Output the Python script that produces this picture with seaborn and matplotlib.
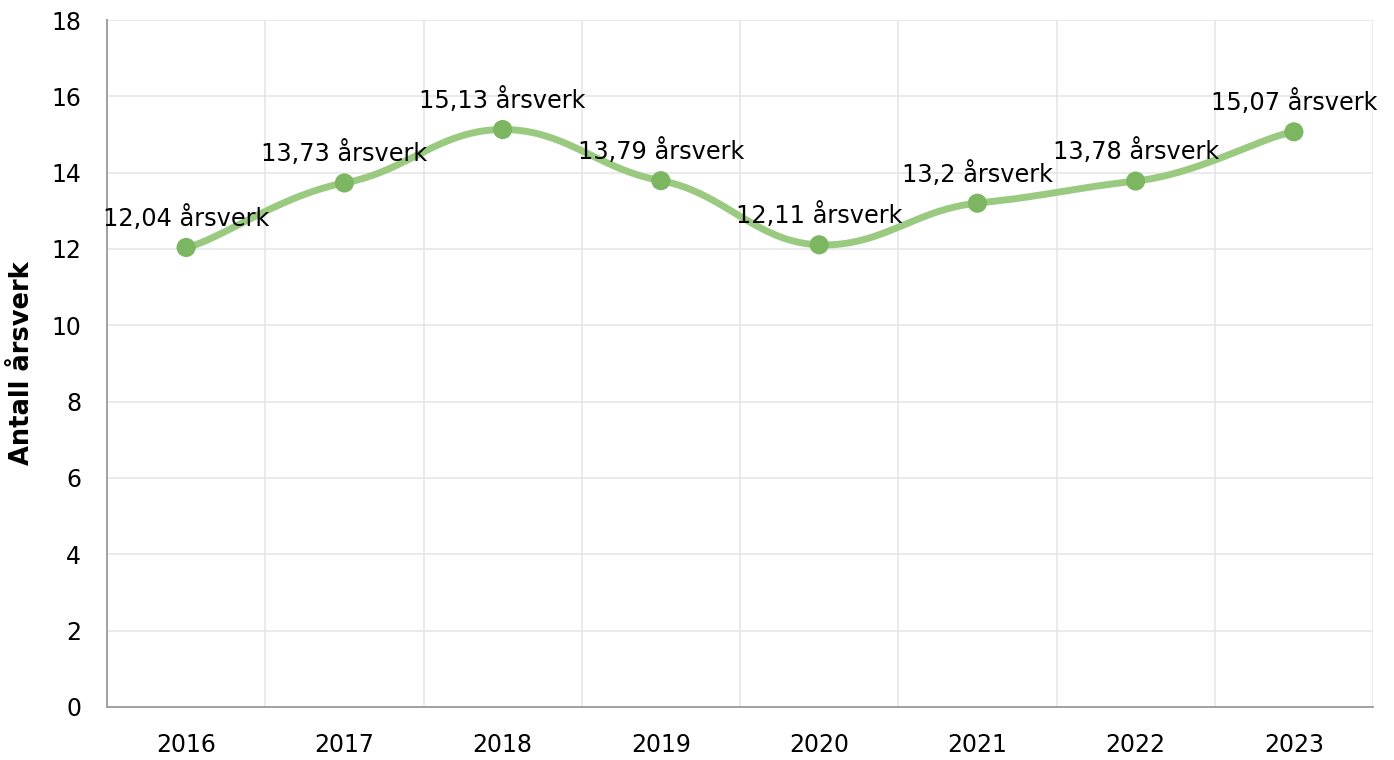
import numpy as np
import pandas as pd
import matplotlib
matplotlib.use("Agg")
import matplotlib.pyplot as plt
import seaborn as sns

years = ["2016", "2017", "2018", "2019", "2020", "2021", "2022", "2023"]
values = [12.04, 13.73, 15.13, 13.79, 12.11, 13.2, 13.78, 15.07]
labels = ["12,04 årsverk", "13,73 årsverk", "15,13 årsverk", "13,79 årsverk",
          "12,11 årsverk", "13,2 årsverk", "13,78 årsverk", "15,07 årsverk"]
y_ticks = [0, 2, 4, 6, 8, 10, 12, 14, 16, 18]
y_title = "Antall årsverk"

LINE_C = "#9aca80"
MARK_C = "#7db660"
GRID_C = "#e6e6e6"
AXIS_C = "#a0a0a0"


def tension_path(xs, ys, tension_x=0.8, tension_y=0.9, n=40):
    """Cubic smoothing with separate x / y tension (control = p1 + (p2 - p0) * (1 - tension))."""
    tx = 1 - tension_x
    ty = 1 - tension_y
    N = len(xs)
    P = list(zip(xs, ys))
    outx, outy = [xs[0]], [ys[0]]
    t = np.linspace(0, 1, n)[1:]
    for i in range(N - 1):
        p0 = P[i - 1] if i > 0 else P[i]
        p1 = P[i]
        p2 = P[i + 1]
        p3 = P[i + 2] if i + 2 < N else P[i + 1]
        ca = (p1[0] + (p2[0] - p0[0]) * tx, p1[1] + (p2[1] - p0[1]) * ty)
        cb = (p2[0] - (p3[0] - p1[0]) * tx, p2[1] - (p3[1] - p1[1]) * ty)
        bx = (1 - t) ** 3 * p1[0] + 3 * (1 - t) ** 2 * t * ca[0] + 3 * (1 - t) * t ** 2 * cb[0] + t ** 3 * p2[0]
        by = (1 - t) ** 3 * p1[1] + 3 * (1 - t) ** 2 * t * ca[1] + 3 * (1 - t) * t ** 2 * cb[1] + t ** 3 * p2[1]
        outx.extend(bx); outy.extend(by)
    return np.array(outx), np.array(outy)


sns.set_theme(style="white")
plt.rcParams["font.family"] = ["DejaVu Sans"]

fig = plt.figure(figsize=(13.94, 7.6), dpi=100)
ax = fig.add_axes([107 / 1394, 1 - 707 / 760, (1373 - 107) / 1394, (707 - 20) / 760])

xpos = np.arange(len(years), dtype=float)
sx, sy = tension_path(xpos, values)
curve = pd.DataFrame({"x": sx, "y": sy})
sns.lineplot(data=curve, x="x", y="y", sort=False, ax=ax, color=LINE_C, linewidth=5.0,
             solid_capstyle="round", zorder=3)
pts = pd.DataFrame({"x": xpos, "y": values})
sns.scatterplot(data=pts, x="x", y="y", ax=ax, color=MARK_C, s=190, edgecolor="none",
                zorder=4, clip_on=False)

for xi, v, lab in zip(xpos, values, labels):
    ax.annotate(lab, (xi, v), xytext=(0, 12), textcoords="offset points",
                ha="center", va="bottom", fontsize=17.3, color="black", zorder=5)

ax.set_xlim(-0.5, len(years) - 0.5)
ax.set_ylim(0, 18)
ax.set_yticks(y_ticks)
ax.set_yticklabels([str(t) for t in y_ticks])
ax.set_xticks(xpos)
ax.set_xticklabels(years)
ax.set_xticks(np.arange(-0.5, len(years), 1.0), minor=True)

ax.grid(True, axis="y", which="major", color=GRID_C, linewidth=1.2)
ax.grid(True, axis="x", which="minor", color=GRID_C, linewidth=1.2)
ax.grid(False, axis="x", which="major")
ax.set_axisbelow(True)

ax.tick_params(axis="x", which="major", direction="out", length=7.5, width=1.2, color=AXIS_C,
               labelsize=17, pad=11, labelcolor="black")
ax.tick_params(axis="x", which="minor", length=0)
ax.tick_params(axis="y", which="major", direction="out", length=7.5, width=1.2, color=GRID_C,
               labelsize=17, pad=11, labelcolor="black")

for side in ["top", "right"]:
    ax.spines[side].set_visible(False)
for side in ["left", "bottom"]:
    ax.spines[side].set_color(AXIS_C)
    ax.spines[side].set_linewidth(1.4)

ax.set_xlabel("")
ax.set_ylabel(y_title, fontsize=18.5, fontweight="bold", color="black")
ax.yaxis.set_label_coords(-0.057, 0.5)

fig.savefig("out.png", dpi=100, facecolor="white")
